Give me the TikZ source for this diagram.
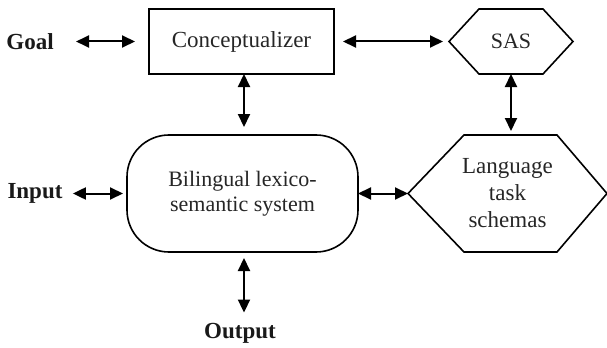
\documentclass[tikz,border=0pt]{standalone}
\usepackage{fontspec}
\setmainfont{Liberation Serif}
\usetikzlibrary{arrows.meta}
\begin{document}
\begin{tikzpicture}[x=0.5pt,y=-0.5pt,
  txt/.style={font=\fontsize{11}{12.5}\selectfont, text=black!85, align=center, inner sep=0pt},
  lbl/.style={font=\fontsize{11.5}{13}\selectfont\bfseries, text=black!90, inner sep=0pt},
  box/.style={draw, line width=1.3pt, minimum width=92.5pt, minimum height=32.5pt, inner sep=0pt, outer sep=0pt},
  blob/.style={draw, line width=0.8pt, rounded corners=21pt, minimum width=115.5pt, minimum height=58.5pt, inner sep=0pt, outer sep=0pt},
  hexnode/.style={inner sep=0pt, outer sep=0pt},
  edge/.style={line width=0.8pt},
  biarrow/.style={{Triangle[length=6.5pt,width=6pt]}-{Triangle[length=6.5pt,width=6pt]}, line width=1pt}]
\useasboundingbox (0,0) rectangle (607,348);

% main blocks
\node[box, txt, font=\fontsize{11.5}{13}\selectfont] (conc) at (241.5,41.5) {Conceptualizer};
\node[blob, txt] (bls) at (242.5,193.5) {Bilingual lexico-\\semantic system};
\node[hexnode, minimum width=62pt, minimum height=32.5pt, txt] (sas) at (511,41.5) {SAS};
\node[hexnode, minimum width=99.5pt, minimum height=58.5pt, txt,
      font=\fontsize{11.5}{13.5}\selectfont] (lts) at (507.5,193.5) {Language\\task\\schemas};

% hexagon outlines
\draw[edge] (sas.west) -- ([xshift=15pt]sas.north west) -- ([xshift=-15pt]sas.north east)
  -- (sas.east) -- ([xshift=-15pt]sas.south east) -- ([xshift=15pt]sas.south west) -- cycle;
\draw[edge] (lts.west) -- ([xshift=28pt]lts.north west) -- ([xshift=-25pt]lts.north east)
  -- (lts.east) -- ([xshift=-25pt]lts.south east) -- ([xshift=28pt]lts.south west) -- cycle;

% outside labels
\node[lbl] (goal) at (30,41.5) {Goal};
\node[lbl] (input) at (35,193.5) {Input};
\node[lbl] (output) at (240,333) {Output};

% connectors
\draw[biarrow] ([xshift=11pt]goal.east) -- ([xshift=-7pt]conc.west);
\draw[biarrow] ([xshift=4.5pt]conc.east) -- ([xshift=-3pt]sas.west);
\draw[biarrow, shorten >=4pt] ([xshift=1.25pt]conc.south) -- ([xshift=1.25pt]conc.south |- bls.north);
\draw[biarrow, shorten >=2pt] (sas.south) -- (sas.south |- lts.north);
\draw[biarrow] ([xshift=5pt]input.east) -- ([xshift=-2pt]bls.west);
\draw[biarrow] (bls.east) -- (lts.west);
\draw[biarrow, shorten <=3pt, shorten >=5pt] ([xshift=0.75pt]bls.south) -- ([xshift=0.75pt]bls.south |- output.north);
\end{tikzpicture}
\end{document}
